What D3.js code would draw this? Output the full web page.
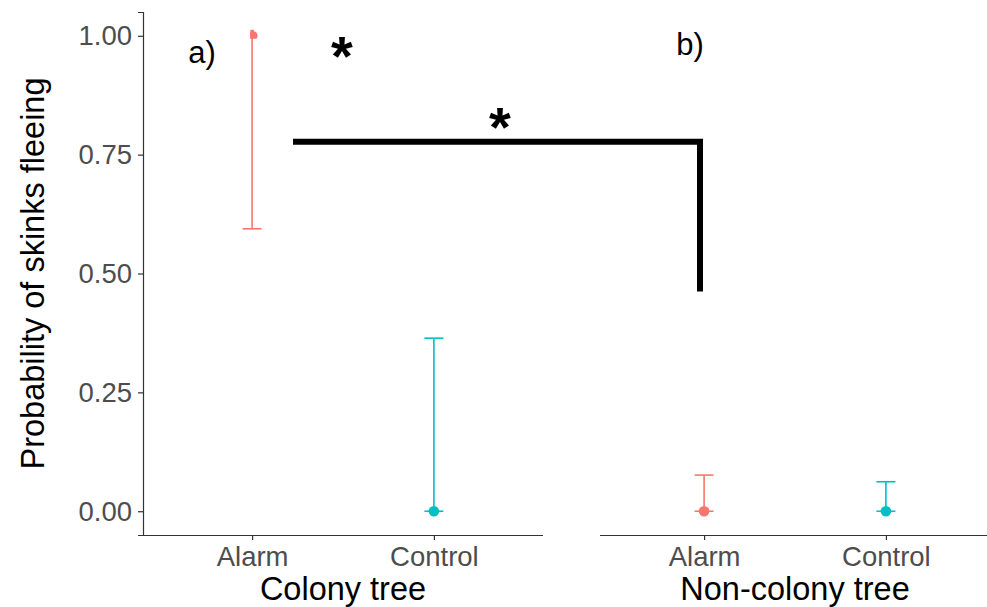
<!DOCTYPE html>
<html>
<head>
<meta charset="utf-8">
<script src="https://cdnjs.cloudflare.com/ajax/libs/d3/7.8.5/d3.min.js"></script>
<style>
  html, body { margin: 0; padding: 0; background: #fff; }
  svg { display: block; font-family: "Liberation Sans", Arial, sans-serif; }
</style>
</head>
<body>
<svg id="chart" width="987" height="607"></svg>
<script>
// ---- data ----
const panels = ["Colony tree", "Non-colony tree"];
const panelLabels = ["a)", "b)"];
const categories = ["Alarm", "Control"];
const colors = ["#F8766D", "#00BFC4"];
// estimates per panel: [Alarm, Control]
const estimate = [[1.00, 0.00], [0.00, 0.00]];
const lower = [[0.594, 0.00], [0.00, 0.00]];
const upper = [[1.00, 0.364], [0.076, 0.062]];
const yTicks = [0, 0.25, 0.5, 0.75, 1.0];
const yTitle = "Probability of skinks fleeing";
// significance annotation (y in data units)
const bracketY = 0.777;
const bracketBottomY = 0.462;
const starLabels = ["*", "*"];
const starY = [0.975, 0.826];

// ---- layout ----
const svg = d3.select("#chart");
const panelTop = 12, panelBottom = 535;
const panelX = [[143, 543], [595, 995]];
const y = d3.scaleLinear().domain([-0.05, 1.05]).range([panelBottom, panelTop]);
const axisColor = "#333333";
const tickTextColor = "#4D4D4D";
const tickFont = 27.5, titleFont = 32.5;

// ggplot discrete expansion: 0.6 units on each side
const xScales = panelX.map(r => d3.scalePoint().domain(categories).range(r).padding(0.6));

// y axis (left panel only)
const yAxis = d3.axisLeft(y).tickValues(yTicks).tickFormat(d3.format(".2f")).tickSize(5).tickPadding(6);
const gy = svg.append("g").attr("transform", `translate(${panelX[0][0]},0)`).call(yAxis);
gy.select(".domain").attr("stroke", axisColor).attr("stroke-width", 1.2);
gy.selectAll(".tick line").attr("stroke", axisColor).attr("stroke-width", 1.2);
gy.selectAll(".tick text").attr("fill", tickTextColor).attr("font-size", tickFont).attr("font-family", "Liberation Sans, Arial, sans-serif");

// y title
svg.append("text")
  .attr("transform", `translate(44,${(panelTop + panelBottom) / 2}) rotate(-90)`)
  .attr("text-anchor", "middle")
  .attr("font-size", titleFont)
  .attr("fill", "#000")
  .text(yTitle);

panels.forEach((p, i) => {
  const x = xScales[i];
  const xAxis = d3.axisBottom(x).tickSize(5).tickPadding(6);
  const gx = svg.append("g").attr("transform", `translate(0,${panelBottom})`).call(xAxis);
  gx.select(".domain").attr("stroke", axisColor).attr("stroke-width", 1.2)
    .attr("d", `M${i === 0 ? panelX[i][0] : 600},0.5H${Math.min(panelX[i][1], 987)}`);
  gx.selectAll(".tick line").attr("stroke", axisColor).attr("stroke-width", 1.2);
  gx.selectAll(".tick text").attr("fill", tickTextColor).attr("font-size", tickFont)
    .attr("font-family", "Liberation Sans, Arial, sans-serif");

  // x title
  svg.append("text")
    .attr("x", (panelX[i][0] + panelX[i][1]) / 2)
    .attr("y", 600)
    .attr("text-anchor", "middle")
    .attr("font-size", titleFont)
    .attr("fill", "#000")
    .text(p);

  // error bars + points
  categories.forEach((c, j) => {
    const cx = x(c);
    const g = svg.append("g");
    const col = colors[j];
    const capW = 9.5;
    const yl = y(lower[i][j]), yu = y(upper[i][j]), ye = y(estimate[i][j]);
    g.append("line").attr("x1", cx).attr("x2", cx).attr("y1", yl).attr("y2", yu)
      .attr("stroke", col).attr("stroke-width", 1.6);
    g.append("line").attr("x1", cx - capW).attr("x2", cx + capW).attr("y1", yl).attr("y2", yl)
      .attr("stroke", col).attr("stroke-width", 1.6);
    if (upper[i][j] < 1) {
      g.append("line").attr("x1", cx - capW).attr("x2", cx + capW).attr("y1", yu).attr("y2", yu)
        .attr("stroke", col).attr("stroke-width", 1.6);
      g.append("circle").attr("cx", cx).attr("cy", ye).attr("r", 5.3).attr("fill", col);
    } else {
      // point at the top boundary rendered as a small half marker
      const cid = `clip-${i}-${j}`;
      svg.append("clipPath").attr("id", cid).append("rect")
        .attr("x", cx - 2).attr("y", ye - 6).attr("width", 9).attr("height", 9);
      g.append("circle").attr("cx", cx + 1).attr("cy", ye).attr("r", 4.5).attr("fill", col)
        .attr("clip-path", `url(#${cid})`);
      g.append("line").attr("x1", cx).attr("x2", cx).attr("y1", ye).attr("y2", ye - 6)
        .attr("stroke", col).attr("stroke-width", 3.5);
    }
  });

  // panel label
  svg.append("text")
    .attr("x", i === 0 ? 202 : 690)
    .attr("y", i === 0 ? 63 : 55)
    .attr("text-anchor", "middle")
    .attr("font-size", 31)
    .attr("fill", "#000")
    .text(panelLabels[i]);
});

// significance bracket
const bx0 = 293, bx1 = 700;
svg.append("path")
  .attr("d", `M${bx0},${y(bracketY)}H${bx1}V${y(bracketBottomY)}`)
  .attr("fill", "none").attr("stroke", "#000").attr("stroke-width", 6)
  .attr("stroke-linejoin", "miter");

const starX = [342, 500];
starLabels.forEach((s, k) => {
  svg.append("text")
    .attr("x", starX[k])
    .attr("y", y(starY[k]) + 27)
    .attr("text-anchor", "middle")
    .attr("font-size", 56)
    .attr("font-weight", "bold")
    .attr("fill", "#000")
    .text(s);
});
</script>
</body>
</html>
